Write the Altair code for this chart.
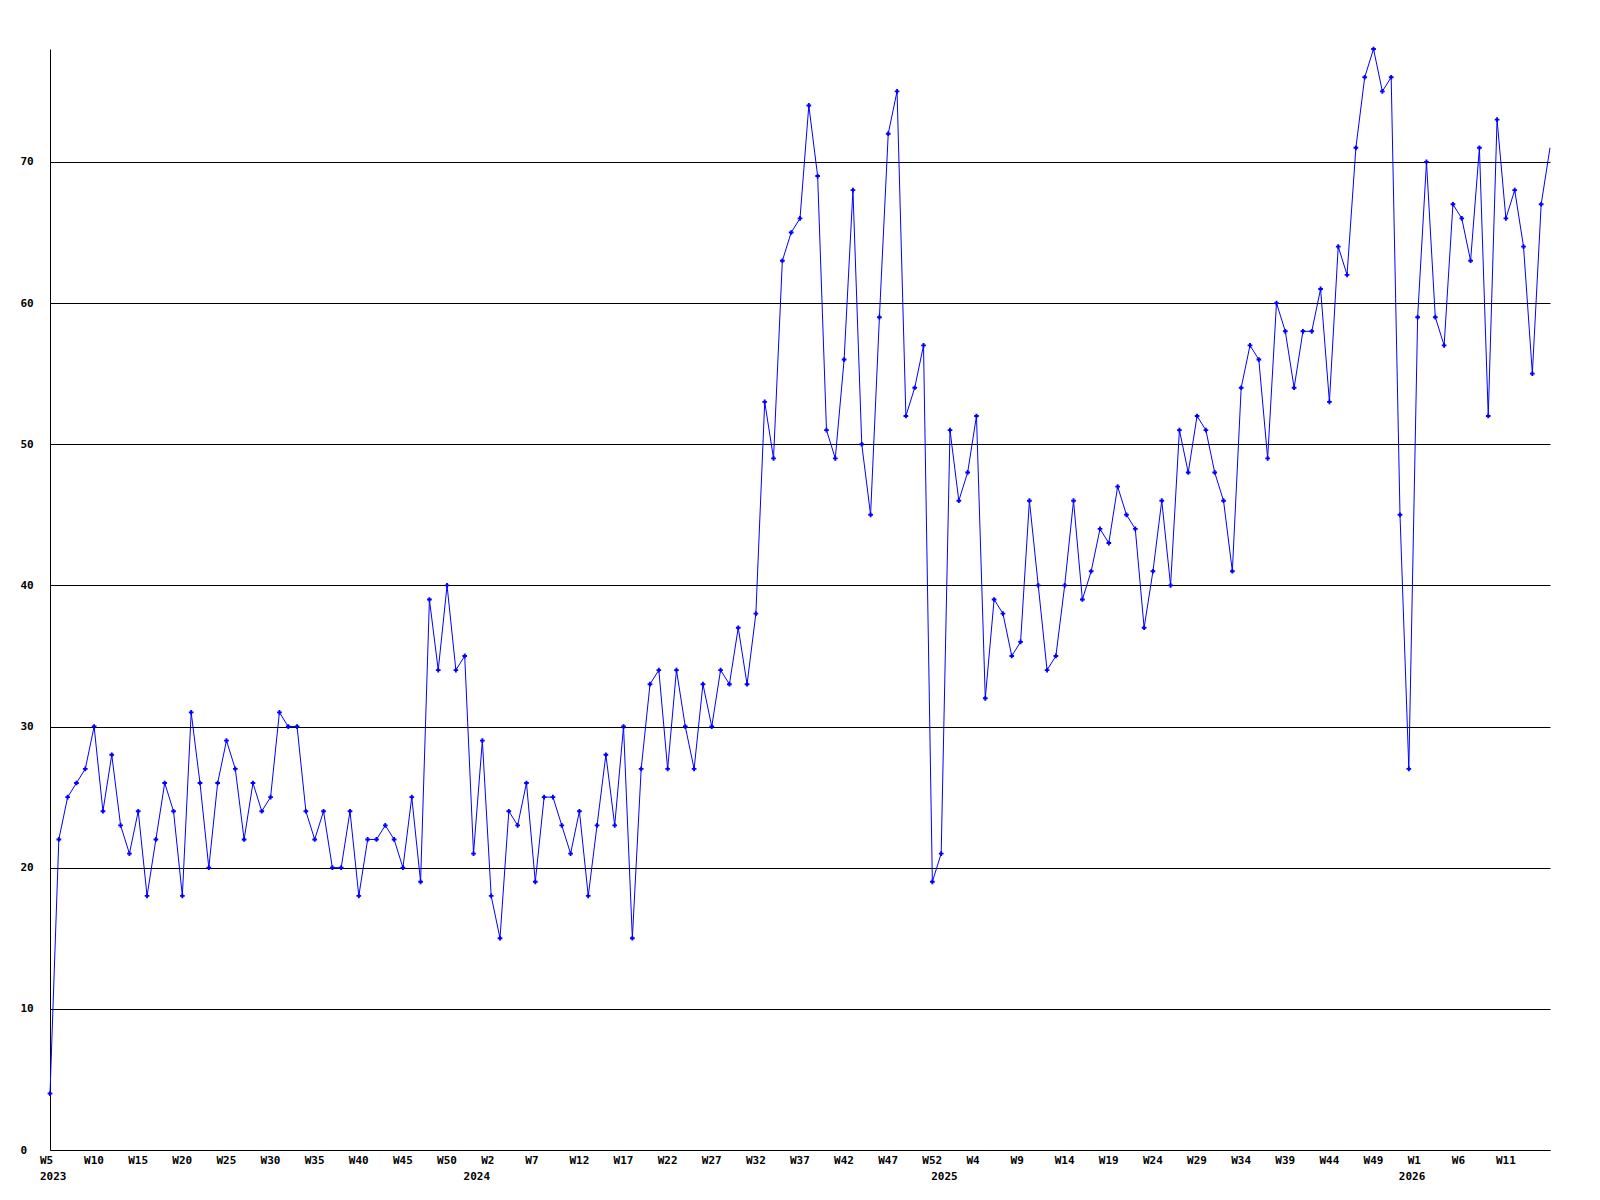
import altair as alt
import pandas as pd

# weekly values, 2023 W5 .. 2026 W16 (weeks numbered 1..53 per year)
values = [
    4, 22, 25, 26, 27, 30, 24, 28, 23, 21, 24, 18, 22, 26, 24, 18, 31, 26, 20, 26,
    29, 27, 22, 26, 24, 25, 31, 30, 30, 24, 22, 24, 20, 20, 24, 18, 22, 22, 23, 22,
    20, 25, 19, 39, 34, 40, 34, 35, 21,
    29, 18, 15, 24, 23, 26, 19, 25, 25, 23, 21, 24, 18, 23, 28, 23, 30, 15, 27, 33,
    34, 27, 34, 30, 27, 33, 30, 34, 33, 37, 33, 38, 53, 49, 63, 65, 66, 74, 69, 51,
    49, 56, 68, 50, 45, 59, 72, 75, 52, 54, 57, 19, 21,
    51, 46, 48, 52, 32, 39, 38, 35, 36, 46, 40, 34, 35, 40, 46, 39, 41, 44, 43, 47,
    45, 44, 37, 41, 46, 40, 51, 48, 52, 51, 48, 46, 41, 54, 57, 56, 49, 60, 58, 54,
    58, 58, 61, 53, 64, 62, 71, 76, 78, 75, 76, 45, 27,
    59, 70, 59, 57, 67, 66, 63, 71, 52, 73, 66, 68, 64, 55, 67, 71,
]

week_tick_labels = [
    "W5", "W10", "W15", "W20", "W25", "W30", "W35", "W40", "W45", "W50",
    "W2", "W7", "W12", "W17", "W22", "W27", "W32", "W37", "W42", "W47", "W52",
    "W4", "W9", "W14", "W19", "W24", "W29", "W34", "W39", "W44", "W49",
    "W1", "W6", "W11",
]
tick_step = 5

year_labels = ["2023", "2024", "2025", "2026"]
year_label_index = [0, 48, 101, 154]

W, H = 1500, 1101
FONT = "DejaVu Sans Mono"
last_i = len(values) - 1

df = pd.DataFrame({"i": list(range(len(values))), "v": values})
ticks_df = pd.DataFrame({
    "i": [k * tick_step for k in range(len(week_tick_labels))],
    "lab": week_tick_labels,
})
years_df = pd.DataFrame({"i": year_label_index, "lab": year_labels})

xscale = alt.Scale(domain=[0, last_i], nice=False, zero=False)
yscale = alt.Scale(domain=[0, max(values)], nice=False)

x_enc = alt.X("i:Q", scale=xscale,
              axis=alt.Axis(title=None, labels=False, ticks=False, grid=False,
                            domainColor="black", domainWidth=1))
y_enc = alt.Y("v:Q", scale=yscale,
              axis=alt.Axis(title=None, values=[0, 10, 20, 30, 40, 50, 60, 70],
                            grid=True, gridColor="black", gridWidth=1, gridOpacity=1,
                            ticks=False, tickSize=0, labelAlign="left",
                            labelBaseline="middle", labelPadding=30,
                            labelFont=FONT, labelFontSize=11, labelFontWeight="bold",
                            labelColor="black", domainColor="black", domainWidth=1))

line = alt.Chart(df).mark_line(color="#0000ff", strokeWidth=1).encode(x=x_enc, y=y_enc)
pts = alt.Chart(df).transform_filter(f"datum.i < {last_i}").mark_point(
    shape="cross", filled=True, size=22, color="#0000ff", opacity=1
).encode(x="i:Q", y="v:Q")

week_text = alt.Chart(ticks_df).mark_text(
    align="left", baseline="middle", dx=-10, font=FONT, fontSize=11,
    fontWeight="bold", color="black"
).encode(x="i:Q", y=alt.value(H + 11), text="lab:N")

year_text = alt.Chart(years_df).mark_text(
    align="left", baseline="middle", dx=-10, font=FONT, fontSize=11,
    fontWeight="bold", color="black"
).encode(x="i:Q", y=alt.value(H + 27), text="lab:N")

chart = alt.layer(line, pts, week_text, year_text).properties(
    width=W, height=H,
    background="white",
    autosize=alt.AutoSizeParams(type="none"),
    padding={"left": 42, "top": 41, "right": 30, "bottom": 40},
).configure_view(stroke=None)

chart.save("out.html", embed_options={"renderer": "svg", "actions": False})
